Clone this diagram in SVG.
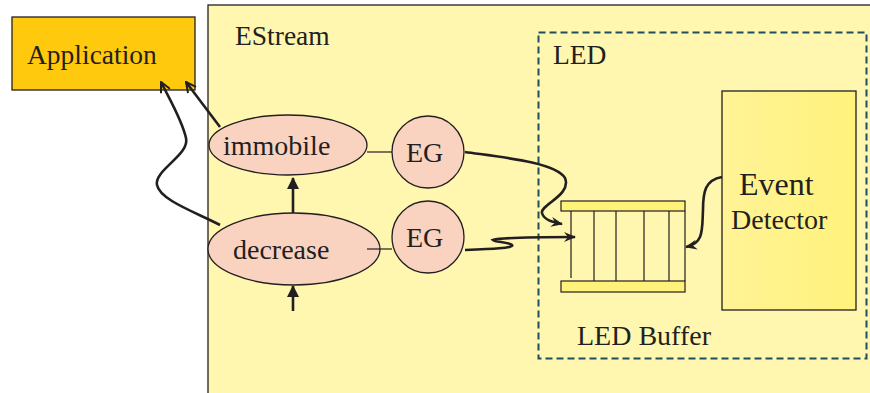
<svg xmlns="http://www.w3.org/2000/svg" width="870" height="393" viewBox="0 0 870 393">
<defs>
<marker id="stealth" viewBox="0 0 12 10" refX="11" refY="5" markerWidth="12" markerHeight="10" markerUnits="userSpaceOnUse" orient="auto">
<path d="M0,0 L12,5 L0,10 L4,5 Z" fill="#231f20"/>
</marker>
<marker id="open" viewBox="0 0 12 12" refX="11" refY="6" markerWidth="12" markerHeight="12" markerUnits="userSpaceOnUse" orient="auto">
<path d="M1,1 L11,6 L1,11" fill="none" stroke="#231f20" stroke-width="2"/>
</marker>
<marker id="tri" viewBox="0 0 12 12" refX="11" refY="6" markerWidth="12" markerHeight="12" markerUnits="userSpaceOnUse" orient="auto">
<path d="M0,0 L12,6 L0,12 Z" fill="#231f20"/>
</marker>
<linearGradient id="edg" x1="0" y1="0" x2="1" y2="0">
<stop offset="0" stop-color="#fff396"/>
<stop offset="1" stop-color="#fff27c"/>
</linearGradient>
</defs>
<style>
text{font-family:"Liberation Serif","Times New Roman",serif;fill:#231f20}
.el{fill:#f9d2c0;stroke:#231f20;stroke-width:1.3}
.thin{stroke:#231f20;stroke-width:1.2;fill:none}
.thick{stroke:#231f20;stroke-width:2.6;fill:none}
.bar{fill:#fff27a;stroke:#231f20;stroke-width:1.2}
</style>
<rect width="870" height="393" fill="#ffffff"/>
<g id="estream">
<rect x="208" y="5" width="670" height="400" fill="#fff6b0" stroke="#231f20" stroke-width="1.3"/>
<text x="235" y="45" font-size="27.5">EStream</text>
</g>
<g id="led">
<rect x="538.5" y="32.5" width="328" height="326" fill="none" stroke="#1f4e5f" stroke-width="2" stroke-dasharray="7,4"/>
<text x="553" y="64" font-size="27.5">LED</text>
</g>
<g id="application">
<rect x="12" y="17" width="183" height="73" fill="#ffc90e" stroke="#231f20" stroke-width="1.3"/>
<text x="27" y="64" font-size="27.5">Application</text>
</g>
<g id="immobile">
<ellipse class="el" cx="288" cy="145" rx="79" ry="30"/>
<text x="223" y="155" font-size="28">immobile</text>
</g>
<g id="decrease">
<ellipse class="el" cx="294" cy="249" rx="86" ry="36"/>
<text x="233" y="259" font-size="28">decrease</text>
</g>
<g id="eg1">
<circle class="el" cx="428" cy="152" r="36"/>
<text x="406" y="162" font-size="28">EG</text>
</g>
<g id="eg2">
<circle class="el" cx="428" cy="237" r="36"/>
<text x="406" y="247" font-size="28">EG</text>
</g>
<g id="event-detector">
<rect x="722" y="91" width="134" height="219" fill="url(#edg)" stroke="#231f20" stroke-width="1.3"/>
<text x="739" y="195" font-size="32">Event</text>
<text x="731" y="229" font-size="28">Detector</text>
</g>
<g id="led-buffer">
<rect class="bar" x="561" y="201" width="124" height="10"/>
<rect class="bar" x="561" y="281" width="124" height="11"/>
<path class="thin" d="M571,211 V278 M594,211 V281 M616,211 V281 M644,211 V281 M669,211 V281 M685,211 V281"/>
<text x="577" y="345" font-size="28">LED Buffer</text>
</g>
<g id="connectors">
<path class="thin" d="M367,152 H392"/>
<path class="thin" d="M367,249 H392"/>
<path class="thick" d="M293,213 V178" marker-end="url(#tri)"/>
<path class="thick" d="M293,311 V286" marker-end="url(#tri)"/>
<path class="thick" d="M220,127 L186,82" marker-end="url(#open)"/>
<path class="thick" d="M220,225 C195,212 160,200 157,185 C154,170 190,155 186,138 C182,120 170,100 161,82" marker-end="url(#open)"/>
<path class="thick" d="M465,152 C500,157 555,162 565,178 C572,195 540,205 542,213 C544,220 552,222 562,224" marker-end="url(#stealth)"/>
<path class="thick" d="M465,250 C490,249 515,248 512,245 C509,242 495,242 493,240 C500,238 540,237 575,237" marker-end="url(#stealth)"/>
<path class="thick" d="M722,177 C705,180 703,192 703,210 C702,230 704,243 686,247" marker-end="url(#stealth)"/>
</g>
</svg>
